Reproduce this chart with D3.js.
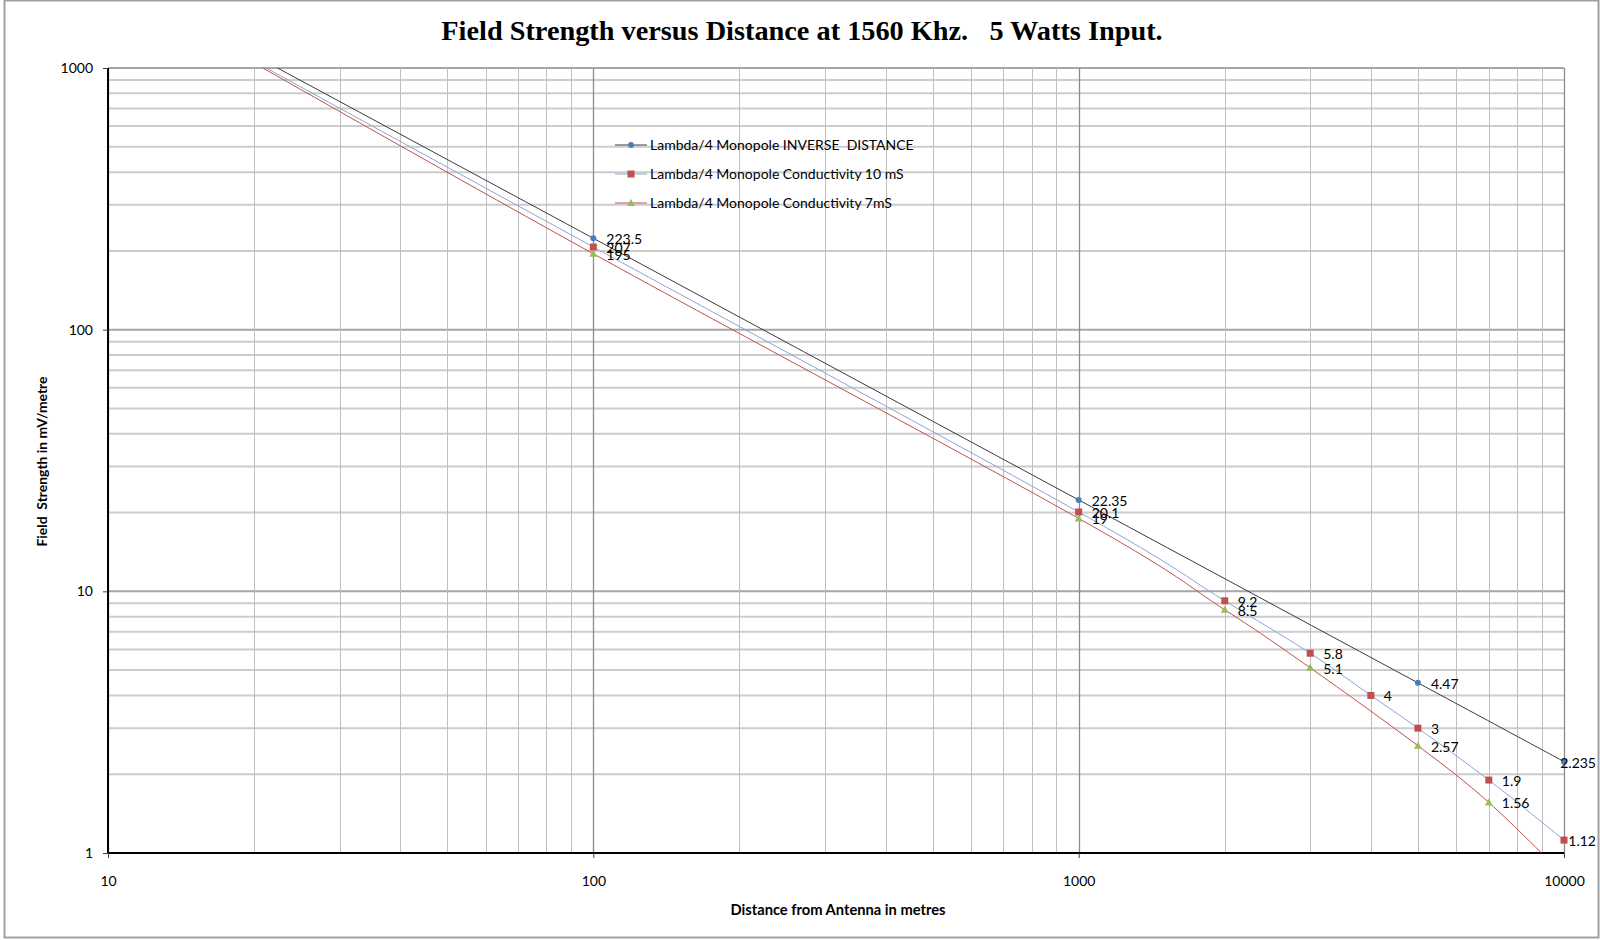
<!DOCTYPE html>
<html>
<head>
<meta charset="utf-8">
<script src="https://cdn.jsdelivr.net/npm/d3@7"></script>
<style>
  html, body { margin: 0; padding: 0; background: #fff; }
  svg { display: block; }
  text { font-family: Lato, "Noto Sans", sans-serif; }
</style>
</head>
<body>
<svg id="chart" width="1600" height="940"></svg>
<script>
// ---------- data ----------
const chartTitle = "Field Strength versus Distance at 1560 Khz.   5 Watts Input.";
const xAxisTitle = "Distance from Antenna in metres";
const yAxisTitle = "Field  Strength in mV/metre";

const seriesNames = [
  "Lambda/4 Monopole INVERSE  DISTANCE",
  "Lambda/4 Monopole Conductivity 10 mS",
  "Lambda/4 Monopole Conductivity 7mS"
];

const invDistX = [20, 100, 1000, 5000, 10000];
const invDistY = [1117.5, 223.5, 22.35, 4.47, 2.235];

const cond10X = [20, 100, 1000, 2000, 3000, 4000, 5000, 7000, 10000];
const cond10Y = [1060, 207, 20.1, 9.2, 5.8, 4, 3, 1.9, 1.12];

const cond7X = [20, 100, 1000, 2000, 3000, 5000, 7000, 10000];
const cond7Y = [1045, 195, 19, 8.5, 5.1, 2.57, 1.56, 0.82];

const xTicks = [10, 100, 1000, 10000];
const yTicks = [1, 10, 100, 1000];

// ---------- layout ----------
const W = 1600, H = 940;
const M = { left: 108, right: 1564, top: 68, bottom: 853 };

const svg = d3.select("#chart");

// chart border
svg.append("rect")
  .attr("x", 4.5).attr("y", 0.5)
  .attr("width", 1594).attr("height", 937)
  .attr("fill", "#fff").attr("stroke", "#a0a0a0").attr("stroke-width", 2);

const x = d3.scaleLog().domain([10, 10000]).range([M.left, M.right]);
const y = d3.scaleLog().domain([1, 1000]).range([M.bottom, M.top]);

function logSteps(lo, hi) {
  const out = [];
  for (let dec = lo; dec < hi; dec *= 10) {
    for (let k = 1; k <= 9; k++) out.push(dec * k);
  }
  out.push(hi);
  return out;
}
const xGridVals = logSteps(10, 10000);
const yGridVals = logSteps(1, 1000);
const isMajor = v => Math.abs(Math.log10(v) - Math.round(Math.log10(v))) < 1e-9;

const grid = svg.append("g");
grid.selectAll("line.h").data(yGridVals).join("line")
  .attr("x1", M.left).attr("x2", M.right)
  .attr("y1", d => y(d)).attr("y2", d => y(d))
  .attr("stroke", d => isMajor(d) ? "#a6a6a6" : "#cccccc")
  .attr("stroke-width", 2);
grid.selectAll("line.v").data(xGridVals).join("line")
  .attr("y1", M.top).attr("y2", M.bottom)
  .attr("x1", d => Math.round(x(d)) + 0.5).attr("x2", d => Math.round(x(d)) + 0.5)
  .attr("stroke", d => isMajor(d) ? "#8c8c8c" : "#bfbfbf")
  .attr("stroke-width", d => isMajor(d) ? 1.3 : 1);

// axes
const xAxis = d3.axisBottom(x).tickValues(xTicks).tickFormat(d3.format("d")).tickSize(5).tickPadding(18);
const yAxis = d3.axisLeft(y).tickValues(yTicks).tickFormat(d3.format("d")).tickSize(5).tickPadding(10);

const gx = svg.append("g").attr("transform", `translate(0,${M.bottom})`).call(xAxis);
const gy = svg.append("g").attr("transform", `translate(${M.left},0)`).call(yAxis);
[gx, gy].forEach(g => {
  g.select(".domain").attr("stroke", "#000").attr("stroke-width", 2);
  g.selectAll(".tick line").attr("stroke", "#404040").attr("stroke-width", 1);
  g.selectAll(".tick text").attr("font-family", "Lato, sans-serif").attr("font-size", 14).attr("fill", "#000");
});
gx.select(".domain").attr("d", `M${M.left},0H${M.right}`);
gy.select(".domain").attr("d", `M0,${M.bottom}V${M.top}`);

// titles
svg.append("text")
  .attr("x", 802).attr("y", 40)
  .attr("text-anchor", "middle")
  .style("font-family", "'Liberation Serif', 'Times New Roman', serif")
  .style("font-weight", "bold")
  .style("font-size", "28.3px")
  .style("white-space", "pre")
  .attr("xml:space", "preserve")
  .text(chartTitle);

svg.append("text")
  .attr("x", 838).attr("y", 915)
  .attr("text-anchor", "middle")
  .style("font-weight", "bold").style("font-size", "14.7px")
  .text(xAxisTitle);

svg.append("text")
  .attr("transform", `translate(47,${(M.top + M.bottom) / 2 + 1}) rotate(-90)`)
  .attr("text-anchor", "middle")
  .style("font-weight", "bold").style("font-size", "13.9px")
  .style("white-space", "pre")
  .attr("xml:space", "preserve")
  .text(yAxisTitle);

// ---------- series ----------
const series = [
  { name: seriesNames[0], xs: invDistX, ys: invDistY, line: "#3a3a3a", marker: "circle", fill: "#4a7ebb" },
  { name: seriesNames[1], xs: cond10X, ys: cond10Y, line: "#8aa5d6", marker: "square", fill: "#c0504d" },
  { name: seriesNames[2], xs: cond7X, ys: cond7Y, line: "#c0504d", marker: "triangle", fill: "#9bbb59" }
];

svg.append("clipPath").attr("id", "plotClip")
  .append("rect").attr("x", M.left).attr("y", M.top)
  .attr("width", M.right - M.left).attr("height", M.bottom - M.top);

const lineGen = d3.line().x(d => x(d[0])).y(d => y(d[1])).curve(d3.curveCardinal.tension(0));

const plot = svg.append("g").attr("clip-path", "url(#plotClip)");
series.forEach(s => {
  const pts = s.xs.map((v, i) => [v, s.ys[i]]);
  plot.append("path").datum(pts)
    .attr("d", lineGen)
    .attr("fill", "none")
    .attr("stroke", s.line)
    .attr("stroke-width", 1);
});

function drawMarker(g, type, cx, cy, fill) {
  if (type === "circle") {
    g.append("circle").attr("cx", cx).attr("cy", cy).attr("r", 3).attr("fill", fill);
  } else if (type === "square") {
    g.append("rect").attr("x", cx - 3.5).attr("y", cy - 3.5).attr("width", 7).attr("height", 7).attr("fill", fill);
  } else {
    g.append("path").attr("d", `M${cx},${cy - 4}L${cx + 4},${cy + 3}L${cx - 4},${cy + 3}Z`).attr("fill", fill);
  }
}

const markers = svg.append("g");
const labels = svg.append("g");
const labelRight = 1596;
series.forEach(s => {
  s.xs.forEach((xv, i) => {
    const yv = s.ys[i];
    if (yv < 1 || yv > 1000) return;
    const px = x(xv), py = y(yv);
    drawMarker(markers, s.marker, px, py, s.fill);
    const t = labels.append("text")
      .attr("x", px + 13).attr("y", py + 6)
      .style("font-size", "14px").attr("fill", "#000")
      .text(String(yv));
    const w = t.node().getComputedTextLength();
    if (px + 13 + w > labelRight) t.attr("x", labelRight - w);
  });
});

// ---------- legend ----------
const legendRows = [145, 174, 203];
const legend = svg.append("g");
series.forEach((s, i) => {
  const ly = legendRows[i];
  legend.append("line")
    .attr("x1", 615).attr("x2", 647).attr("y1", ly).attr("y2", ly)
    .attr("stroke", s.line).attr("stroke-width", 1);
  drawMarker(legend, s.marker, 631, ly, s.fill);
  legend.append("text")
    .attr("x", 650).attr("y", ly + 5)
    .style("font-size", "14px").attr("fill", "#000")
    .style("white-space", "pre")
    .attr("xml:space", "preserve")
    .text(s.name);
});
</script>
</body>
</html>
